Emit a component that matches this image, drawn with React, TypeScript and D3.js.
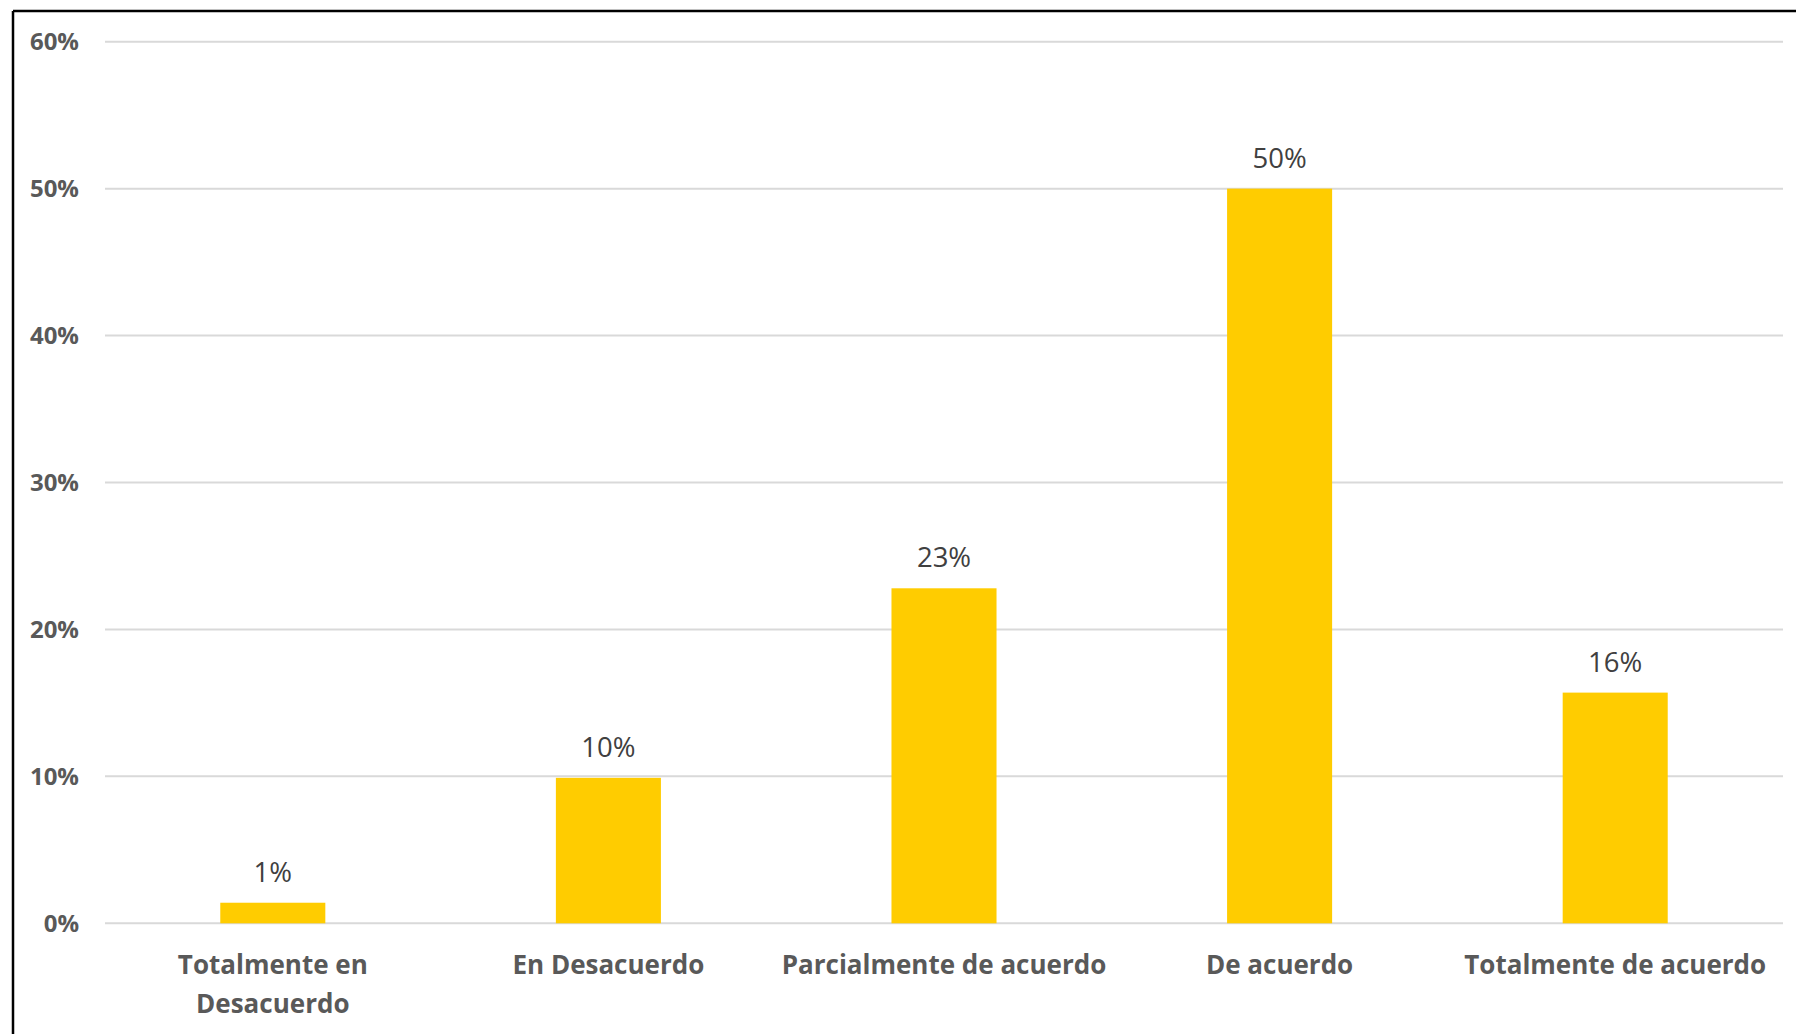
import * as d3 from "d3";

const categories = [
  ["Totalmente en", "Desacuerdo"],
  ["En Desacuerdo"],
  ["Parcialmente de acuerdo"],
  ["De acuerdo"],
  ["Totalmente de acuerdo"],
];
const values = [0.014, 0.099, 0.228, 0.5, 0.157];
const valueLabels = ["1%", "10%", "23%", "50%", "16%"];
const yTicks = [0, 0.1, 0.2, 0.3, 0.4, 0.5, 0.6];

const W = 1796;
const H = 1034;
const left = 105;
const right = 1783;
const top = 41.7;
const bottom = 923.3;

export default function App() {
  const x = d3
    .scaleBand<number>()
    .domain(values.map((_, i) => i))
    .range([left, right])
    .paddingInner(0.687)
    .paddingOuter(0.3435);
  const y = d3.scaleLinear().domain([0, 0.6]).range([bottom, top]);
  const fmt = d3.format(".0%");

  return (
    <svg width={W} height={H} style={{ position: "absolute", left: 0, top: 0, background: "#fff" }}>
      <rect x={0} y={0} width={W} height={H} fill="#fff" />
      {yTicks.map((t) => (
        <g key={t}>
          <line x1={left} x2={right} y1={y(t)} y2={y(t)} stroke="#d9d9d9" strokeWidth={2} />
          <text
            x={79}
            y={y(t)}
            dy="0.35em"
            textAnchor="end"
            fontFamily="'Open Sans', sans-serif"
            fontWeight="bold"
            fontSize={24}
            fill="#595959"
          >
            {fmt(t)}
          </text>
        </g>
      ))}
      {values.map((v, i) => (
        <g key={i}>
          <rect x={x(i)} y={y(v)} width={x.bandwidth()} height={y(0) - y(v)} fill="#ffcc00" />
          <text
            x={(x(i) as number) + x.bandwidth() / 2}
            y={y(v) - 21}
            textAnchor="middle"
            fontFamily="'Open Sans', sans-serif"
            fontSize={27.5}
            fill="#404040"
          >
            {valueLabels[i]}
          </text>
          {categories[i].map((line, j) => (
            <text
              key={j}
              x={(x(i) as number) + x.bandwidth() / 2}
              y={974 + j * 39}
              textAnchor="middle"
              fontFamily="'Open Sans', sans-serif"
              fontWeight="bold"
              fontSize={26}
              fill="#595959"
            >
              {line}
            </text>
          ))}
        </g>
      ))}
      <line x1={13} x2={13} y1={11} y2={H} stroke="#000" strokeWidth={2.5} />
      <line x1={13} x2={W} y1={11} y2={11} stroke="#000" strokeWidth={2.5} />
    </svg>
  );
}
